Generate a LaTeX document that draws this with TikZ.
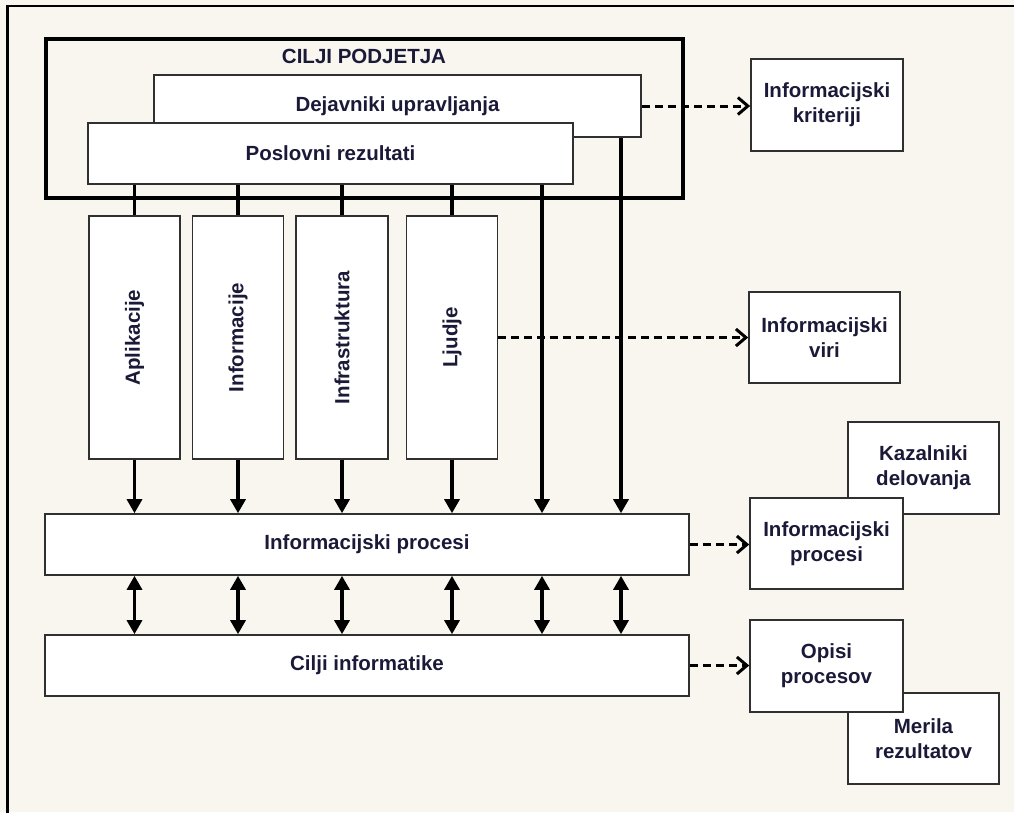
\documentclass[tikz,border=0pt]{standalone}
\usepackage{fontspec}
\setmainfont{Liberation Sans}
\usetikzlibrary{arrows.meta}
\definecolor{paper}{RGB}{249,246,239}
\definecolor{ink}{RGB}{26,26,56}
\definecolor{edge}{RGB}{48,48,48}

\begin{document}
\begin{tikzpicture}[x=1pt,y=-1pt,
  every node/.style={font=\bfseries\fontsize{20.5}{25}\selectfont, text=ink, align=center, inner sep=0pt},
  box/.style={draw=edge, line width=1.6pt, fill=white, rectangle},
  link/.style={line width=3.2pt, draw=black},
  down/.style={link, -{Triangle[length=14pt,width=15pt]}},
  both/.style={link, {Triangle[length=14pt,width=15pt]}-{Triangle[length=14pt,width=15pt]}},
  ref/.style={link, line width=3pt, dash pattern=on 8pt off 5pt, -{Straight Barb[length=10pt,width=17pt]}},
]
% canvas
\fill[paper] (0,0) rectangle (1014,812);
\useasboundingbox (0,0) rectangle (1014,812);
\draw[line width=2.4pt] (7.5,820) -- (7.5,6.2) -- (1020,6.2);

% company goals frame
\node[draw=black, line width=4pt, minimum width=637.5pt, minimum height=158.5pt] (podj) at (364.25,118.25) {};
\node[anchor=base] (podjt) at (364,63) {CILJI PODJETJA};
\node[box, minimum width=487pt, minimum height=62pt] (dej) at (397.5,106) {Dejavniki upravljanja};
\node[box, minimum width=485pt, minimum height=61pt] (posl) at (330.5,153.5) {Poslovni rezultati};

% resource columns
\node[box, minimum width=91pt, minimum height=243pt] (apl) at (134.5,337.5) {\rotatebox{90}{Aplikacije}};
\node[box, minimum width=91pt, minimum height=243pt] (inf) at (238,337.5) {\rotatebox{90}{Informacije}};
\node[box, minimum width=92pt, minimum height=243pt] (infra) at (342,337.5) {\rotatebox{90}{Infrastruktura}};
\node[box, minimum width=91pt, minimum height=243pt] (ljud) at (452,337.5) {\rotatebox{90}{Ljudje}};

% process bars
\node[box, minimum width=644pt, minimum height=61pt] (ip) at (367,544.5) {Informacijski procesi};
\node[box, minimum width=644pt, minimum height=61pt] (ci) at (367,665.5) {Cilji informatike};

% output boxes on the right
\node[box, minimum width=152pt, minimum height=92pt] (krit) at (827,105) {Informacijski\\kriteriji};
\node[box, minimum width=151pt, minimum height=91pt] (viri) at (824.5,337.5) {Informacijski\\viri};
\node[box, minimum width=151pt, minimum height=92pt] (kaz) at (923.5,468) {Kazalniki\\delovanja};
\node[box, minimum width=153pt, minimum height=91pt] (ipr) at (826.5,543.5) {Informacijski\\procesi};
\node[box, minimum width=151pt, minimum height=91pt] (mer) at (923.5,738.5) {Merila\\rezultatov};
\node[box, minimum width=153pt, minimum height=92pt] (opis) at (826.5,666) {Opisi\\procesov};

% vertical links
\coordinate (r1) at (542,0);
\coordinate (r2) at (621,0);
\foreach \c in {apl,inf,infra,ljud}{
  \draw[link] (posl.south -| \c.north) -- (\c.north);
  \draw[down] (\c.south) -- (\c.south |- ip.north);
  \draw[both] (\c.south |- ip.south) -- (\c.south |- ci.north);
}
\draw[down] (r1 |- posl.south) -- (r1 |- ip.north);
\draw[down] (r2 |- dej.south) -- (r2 |- ip.north);
\draw[both] (r1 |- ip.south) -- (r1 |- ci.north);
\draw[both] (r2 |- ip.south) -- (r2 |- ci.north);

% dashed references
\draw[ref] (dej.east) -- (dej.east -| krit.west);
\draw[ref] (ljud.east) -- (ljud.east -| viri.west);
\draw[ref] (ip.east) -- (ip.east -| ipr.west);
\draw[ref] (ci.east) -- (ci.east -| opis.west);
\end{tikzpicture}
\end{document}
